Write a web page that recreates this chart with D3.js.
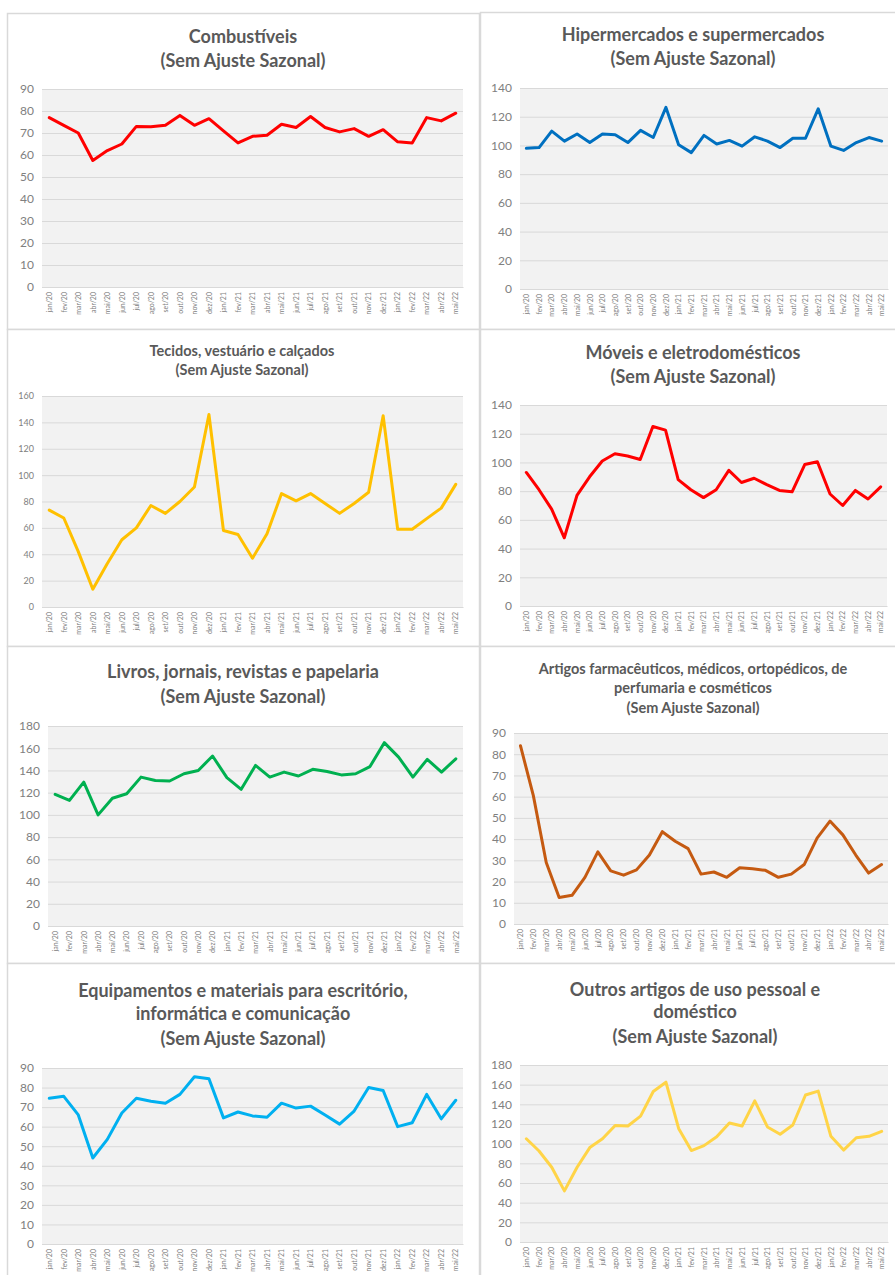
<!DOCTYPE html>
<html>
<head>
<meta charset="utf-8">
<script src="https://cdn.jsdelivr.net/npm/d3@7"></script>
<style>
  body { margin: 0; background: #ffffff; }
  svg { display: block; }
  .title { font-family: Lato, "Open Sans", sans-serif; font-weight: bold; fill: #595959; }
  .tick text { font-family: Lato, "Open Sans", sans-serif; fill: #808080; }
</style>
</head>
<body>
<div id="charts"></div>
<script>
// months shown on every x axis
var months = ["jan/20", "fev/20", "mar/20", "abr/20", "mai/20", "jun/20", "jul/20", "ago/20", "set/20", "out/20", "nov/20", "dez/20",
  "jan/21", "fev/21", "mar/21", "abr/21", "mai/21", "jun/21", "jul/21", "ago/21", "set/21", "out/21", "nov/21", "dez/21",
  "jan/22", "fev/22", "mar/22", "abr/22", "mai/22"];

// series values
var combustiveis = [77, 73.5, 70, 57.5, 62, 65, 73, 72.8, 73.5, 78, 73.5, 76.5, 71, 65.5, 68.5, 69, 74, 72.5, 77.5, 72.5, 70.5, 72, 68.5, 71.5, 66, 65.5, 77, 75.5, 79];
var hipermercados = [98, 98.5, 110, 103, 108, 102, 108, 107.5, 102, 110.5, 105.5, 126.5, 100.5, 95, 107, 101, 103.5, 99.5, 106, 103, 98.5, 105, 105, 125.5, 99.5, 96.5, 102, 105.5, 103];
var tecidos = [73.5, 67.5, 42, 13.5, 33, 51, 60, 77, 71, 80, 91, 146, 58, 55, 37, 55.5, 86, 80.5, 86, 78.5, 71, 78.5, 87, 145, 59, 59, 67, 75, 93];
var moveis = [93, 81, 67.5, 47.5, 77, 90, 101, 106, 104.5, 102, 125, 122.5, 88, 81, 75.5, 81, 94.5, 86, 89, 84.5, 80.5, 79.5, 98.5, 100.5, 78, 70, 80.5, 74.5, 83];
var livros = [118.5, 113, 129.5, 100, 115, 119, 134, 131, 130.5, 137, 140, 153, 133.5, 123, 144.5, 134, 138.5, 135, 141, 139, 136, 137, 143.5, 165, 152, 134, 150, 138.5, 150.5];
var farmaceuticos = [84, 60.5, 29, 12.5, 13.5, 22, 34, 25, 23, 25.5, 32.5, 43.5, 39, 35.5, 23.5, 24.5, 22, 26.5, 26, 25.3, 22, 23.5, 28, 40.5, 48.5, 42, 32.5, 24, 28];
var equipamentos = [74.5, 75.5, 66, 44, 53.5, 67, 74.5, 73, 72, 76.5, 85.5, 84.5, 64.5, 67.5, 65.5, 64.8, 72, 69.5, 70.5, 66, 61.3, 68, 80, 78.5, 60, 62, 76.5, 64, 73.5];
var outros = [105, 92.5, 76, 52, 76, 96, 105, 118.5, 118, 128, 153, 162.5, 115.5, 93, 98, 107, 121, 118, 143.5, 117, 109.5, 119, 149.5, 153.5, 107.5, 93.5, 106, 107.5, 112.5];

// titles and y axis maxima
var titles = [
  ["Combustíveis", "(Sem Ajuste Sazonal)"],
  ["Hipermercados e supermercados", "(Sem Ajuste Sazonal)"],
  ["Tecidos, vestuário e calçados", "(Sem Ajuste Sazonal)"],
  ["Móveis e eletrodomésticos", "(Sem Ajuste Sazonal)"],
  ["Livros, jornais, revistas e papelaria", "(Sem Ajuste Sazonal)"],
  ["Artigos farmacêuticos, médicos, ortopédicos, de", "perfumaria e cosméticos", "(Sem Ajuste Sazonal)"],
  ["Equipamentos e materiais para escritório,", "informática e comunicação", "(Sem Ajuste Sazonal)"],
  ["Outros artigos de uso pessoal e", "doméstico", "(Sem Ajuste Sazonal)"]
];
var yMax = [90, 140, 160, 140, 180, 90, 90, 180];
var yStep = [10, 20, 20, 20, 20, 10, 10, 20];

var seriesList = [combustiveis, hipermercados, tecidos, moveis, livros, farmaceuticos, equipamentos, outros];
var colors = ["#ff0000", "#0070c0", "#ffc000", "#ff0000", "#00b050", "#c55a11", "#00b0f0", "#ffd447"];

// layout of each panel (box, plot area, title lines)
var layout = [
  { box: [7, 13, 472, 316], plot: [42, 89, 463, 287], tx: 243, ty: [43, 67], tf: 18, yf: 12 },
  { box: [480, 12, 420, 317], plot: [520, 88, 888, 289], tx: 693, ty: [41, 65], tf: 18, yf: 12 },
  { box: [7, 329, 472, 317], plot: [42, 396, 463, 607], tx: 242, ty: [356, 375], tf: 14.5, yf: 9 },
  { box: [480, 329, 420, 317], plot: [520, 405, 887, 606], tx: 693, ty: [359, 383], tf: 18, yf: 12 },
  { box: [7, 646, 472, 317], plot: [48, 726, 463, 926], tx: 243, ty: [678, 703], tf: 18, yf: 12 },
  { box: [480, 646, 420, 317], plot: [514, 733, 888, 924], tx: 693, ty: [674, 693, 713], tf: 14.5, yf: 12 },
  { box: [7, 963, 472, 320], plot: [42, 1068, 463, 1244], tx: 243, ty: [997, 1020, 1045], tf: 18, yf: 12 },
  { box: [480, 963, 420, 320], plot: [520, 1065, 888, 1242], tx: 695, ty: [996, 1018, 1043], tf: 18, yf: 12 }
];

var svg = d3.select("#charts")
  .append("svg")
  .attr("width", 895)
  .attr("height", 1275);

seriesList.forEach(function(values, i) {
  var L = layout[i];
  var g = svg.append("g");

  // panel frame
  g.append("rect")
    .attr("x", L.box[0] + 0.5)
    .attr("y", L.box[1] + 0.5)
    .attr("width", L.box[2])
    .attr("height", L.box[3])
    .attr("fill", "#ffffff")
    .attr("stroke", "#d9d9d9")
    .attr("stroke-width", 1.5);

  var x0 = L.plot[0], y0 = L.plot[1], x1 = L.plot[2], y1 = L.plot[3];

  var xScale = d3.scalePoint()
    .domain(months)
    .range([x0, x1])
    .padding(0.5);

  var yScale = d3.scaleLinear()
    .domain([0, yMax[i]])
    .range([y1, y0]);

  // plot area background
  g.append("rect")
    .attr("x", x0)
    .attr("y", y0)
    .attr("width", x1 - x0)
    .attr("height", y1 - y0)
    .attr("fill", "#f2f2f2");

  // y axis with gridlines
  var yAxis = d3.axisLeft(yScale)
    .tickValues(d3.range(0, yMax[i] + 1, yStep[i]))
    .tickSize(-(x1 - x0))
    .tickPadding(8);

  var ya = g.append("g")
    .attr("transform", `translate(${x0}, 0)`)
    .call(yAxis);
  ya.select(".domain").remove();
  ya.selectAll(".tick line").attr("stroke", "#d9d9d9").attr("stroke-width", 1);
  ya.selectAll(".tick text").style("font-size", L.yf + "px");

  // x axis with rotated month labels
  var xa = g.append("g")
    .attr("transform", `translate(0, ${y1})`)
    .call(d3.axisBottom(xScale).tickSize(0));
  xa.select(".domain").attr("stroke", "#d9d9d9");
  xa.selectAll(".tick text")
    .style("font-size", "7px")
    .attr("text-anchor", "end")
    .attr("transform", "rotate(-90)")
    .attr("x", -5)
    .attr("y", 0)
    .attr("dy", "0.32em");

  // the series line
  var line = d3.line()
    .x((d, j) => xScale(months[j]))
    .y(d => yScale(d));

  g.append("path")
    .datum(values)
    .attr("d", line)
    .attr("fill", "none")
    .attr("stroke", colors[i])
    .attr("stroke-width", 3)
    .attr("stroke-linejoin", "round")
    .attr("stroke-linecap", "round");

  // title
  titles[i].forEach(function(t, k) {
    g.append("text")
      .attr("class", "title")
      .attr("x", L.tx)
      .attr("y", L.ty[k])
      .attr("text-anchor", "middle")
      .style("font-size", L.tf + "px")
      .text(t);
  });
});
</script>
</body>
</html>
